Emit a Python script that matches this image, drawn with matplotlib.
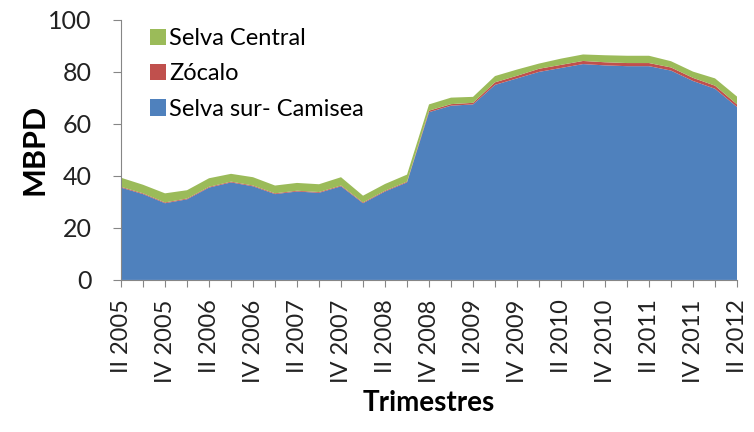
import matplotlib
matplotlib.use("Agg")
from matplotlib import pyplot as plt
import numpy as np

plt.rcParams["font.family"] = ["Lato", "DejaVu Sans"]

quarters = []
for year in range(2005, 2013):
    for q in ["I", "II", "III", "IV"]:
        quarters.append(q + " " + str(year))
quarters = quarters[1:30]  # II 2005 .. II 2012

selva_sur = [35.5, 33.0, 29.5, 31.0, 35.5, 37.5, 36.0, 33.0, 34.0, 33.5, 36.0, 29.5, 34.0, 37.5,
             64.5, 67.0, 67.5, 75.0, 77.5, 80.0, 81.5, 83.0, 82.5, 82.2, 82.2, 80.5, 76.5, 73.5, 66.5]
zocalo = [0.3, 0.3, 0.3, 0.3, 0.3, 0.3, 0.3, 0.3, 0.3, 0.3, 0.3, 0.3, 0.3, 0.3,
          0.6, 0.6, 0.6, 1.0, 1.0, 1.2, 1.2, 1.2, 1.2, 1.2, 1.2, 1.2, 1.2, 1.2, 1.0]
selva_central = [3.5, 3.3, 3.5, 3.2, 3.3, 3.0, 3.2, 3.0, 3.0, 3.0, 3.2, 2.6, 2.6, 2.7,
                 2.4, 2.5, 2.3, 2.4, 2.4, 2.0, 2.4, 2.5, 2.7, 2.8, 2.8, 2.4, 2.4, 2.8, 3.0]

x = np.arange(len(quarters))

fig = plt.figure(figsize=(7.54, 4.32), dpi=100)
ax = fig.add_axes([0.1605, 0.352, 0.817, 0.602])

ax.stackplot(x, selva_sur, zocalo, selva_central,
             colors=["#4F81BD", "#C0504D", "#9BBB59"],
             labels=["Selva sur- Camisea", "Zócalo", "Selva Central"])

ax.set_xlim(0, len(quarters) - 1)
ax.set_ylim(0, 100)
ax.set_yticks([0, 20, 40, 60, 80, 100])
ax.set_xticks(x)
ax.set_xticklabels([q if i % 2 == 0 else "" for i, q in enumerate(quarters)], rotation=90)

for s in ["top", "right"]:
    ax.spines[s].set_visible(False)
for s in ["left", "bottom"]:
    ax.spines[s].set_color("#868686")
ax.tick_params(axis="both", colors="#868686", labelcolor="#222222")
ax.tick_params(axis="y", labelsize=18, length=6, pad=15)
ax.tick_params(axis="x", labelsize=17, length=5, pad=9)

ax.set_ylabel("MBPD", fontsize=22, fontweight="bold")
ax.yaxis.set_label_coords(-0.14, 0.5)
ax.set_xlabel("Trimestres", fontsize=20, fontweight="bold")
ax.xaxis.set_label_coords(0.5, -0.473)
ax.xaxis.label.set_va("center")
ax.yaxis.label.set_va("center")

handles, labels = ax.get_legend_handles_labels()
ax.legend(handles[::-1], labels[::-1], loc="upper left", bbox_to_anchor=(0.047, 0.968),
          frameon=False, fontsize=17, handlelength=0.7, handleheight=0.7,
          handletextpad=0.1, labelspacing=0.6, borderpad=0, borderaxespad=0)

fig.savefig("out.png", dpi=100)
